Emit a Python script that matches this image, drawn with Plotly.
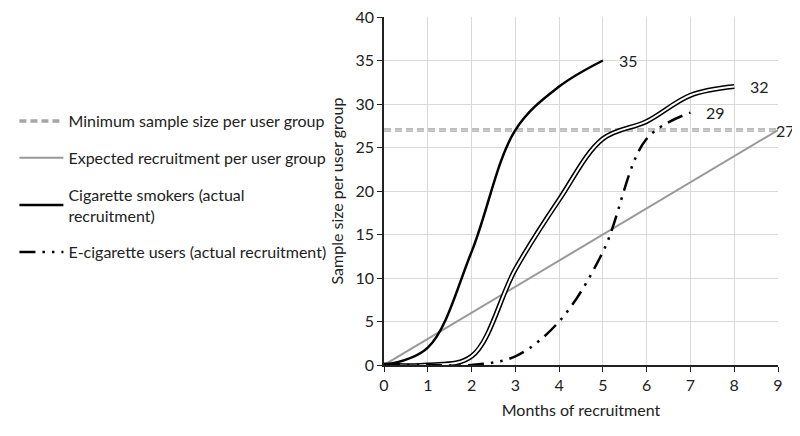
import plotly.graph_objects as go

# series
min_months = [0, 9]
min_size = [27, 27]

expected_months = [0, 9]
expected = [0, 27]

smoker_months = [0, 1, 2, 3, 4, 5]
smokers = [0, 2, 13, 27, 32, 35]

ecig_months = [0, 1, 2, 3, 4, 5, 6, 7]
ecig = [0, 0, 0, 1, 5, 13, 26, 29]

# third group, drawn as a double line, not in the legend
other_months = [0, 1, 2, 3, 4, 5, 6, 7, 8]
other = [0, 0, 1, 11, 19, 26, 28, 31, 32]

x_ticks = [0, 1, 2, 3, 4, 5, 6, 7, 8, 9]
y_ticks = [0, 5, 10, 15, 20, 25, 30, 35, 40]

FONT = "Lato"

fig = go.Figure()

fig.add_trace(go.Scatter(
    x=min_months, y=min_size, mode="lines", name="Minimum sample size per user group",
    line=dict(color="#a6a6a6", width=3.5, dash="7px,4px"), legendgroup="a"))
fig.add_trace(go.Scatter(
    x=min_months, y=min_size, mode="lines", showlegend=False,
    line=dict(color="#d9d9d9", width=1.2, dash="7px,4px"), legendgroup="a"))

fig.add_trace(go.Scatter(
    x=expected_months, y=expected, mode="lines", name="Expected recruitment per user group",
    line=dict(color="#999999", width=2), legendgroup="b"))

fig.add_trace(go.Scatter(
    x=other_months, y=other, mode="lines", showlegend=False,
    line=dict(color="black", width=5, shape="spline"), legendgroup="c"))
fig.add_trace(go.Scatter(
    x=other_months, y=other, mode="lines", showlegend=False,
    line=dict(color="white", width=2, shape="spline"), legendgroup="c"))

fig.add_trace(go.Scatter(
    x=smoker_months, y=smokers, mode="lines", name="Cigarette smokers (actual<br>recruitment)",
    line=dict(color="black", width=2.5, shape="spline"), legendgroup="d"))

fig.add_trace(go.Scatter(
    x=ecig_months, y=ecig, mode="lines", name="E-cigarette users (actual recruitment)",
    line=dict(color="black", width=2.5, shape="spline", dash="16px,7px,2.5px,7px,2.5px,7px"),
    legendgroup="e"))

# end-of-line value labels
for xs, ys, shift in [(smoker_months, smokers, 14), (other_months, other, 14),
                      (ecig_months, ecig, 14), (expected_months, expected, -4)]:
    fig.add_annotation(x=xs[-1], y=ys[-1], text=str(ys[-1]), showarrow=False,
                       xanchor="left", xshift=shift, font=dict(size=16, color="#222"))

axis_common = dict(showgrid=True, gridcolor="#d9d9d9", gridwidth=1, zeroline=False,
                   showline=True, linecolor="#222", linewidth=1.5,
                   ticks="outside", ticklen=5, tickcolor="#222", automargin=False,
                   ticklabeloverflow="allow",
                   tickfont=dict(size=16, color="#222", family=FONT))

fig.update_xaxes(range=[0, 9], tickvals=x_ticks, **axis_common,
                 title=dict(text="Months of recruitment", font=dict(size=16, color="#222", family=FONT),
                            standoff=12))
fig.update_yaxes(range=[0, 40], tickvals=y_ticks, **axis_common,
                 title=dict(text="Sample size per user group", font=dict(size=16, color="#222", family=FONT),
                            standoff=8))

# the page body adds an 8px margin, so the figure is 792x428
fig.update_layout(
    width=792, height=428,
    margin=dict(l=376, r=22, t=9, b=71, autoexpand=False),
    plot_bgcolor="white", paper_bgcolor="white",
    font=dict(family=FONT, color="#222"),
    showlegend=True,
    legend=dict(x=-0.938, y=0.75, xanchor="left", yanchor="top",
                font=dict(size=16, family=FONT, color="#222"),
                tracegroupgap=13, itemwidth=44, bgcolor="rgba(0,0,0,0)"),
)

fig.write_html("out.html")
